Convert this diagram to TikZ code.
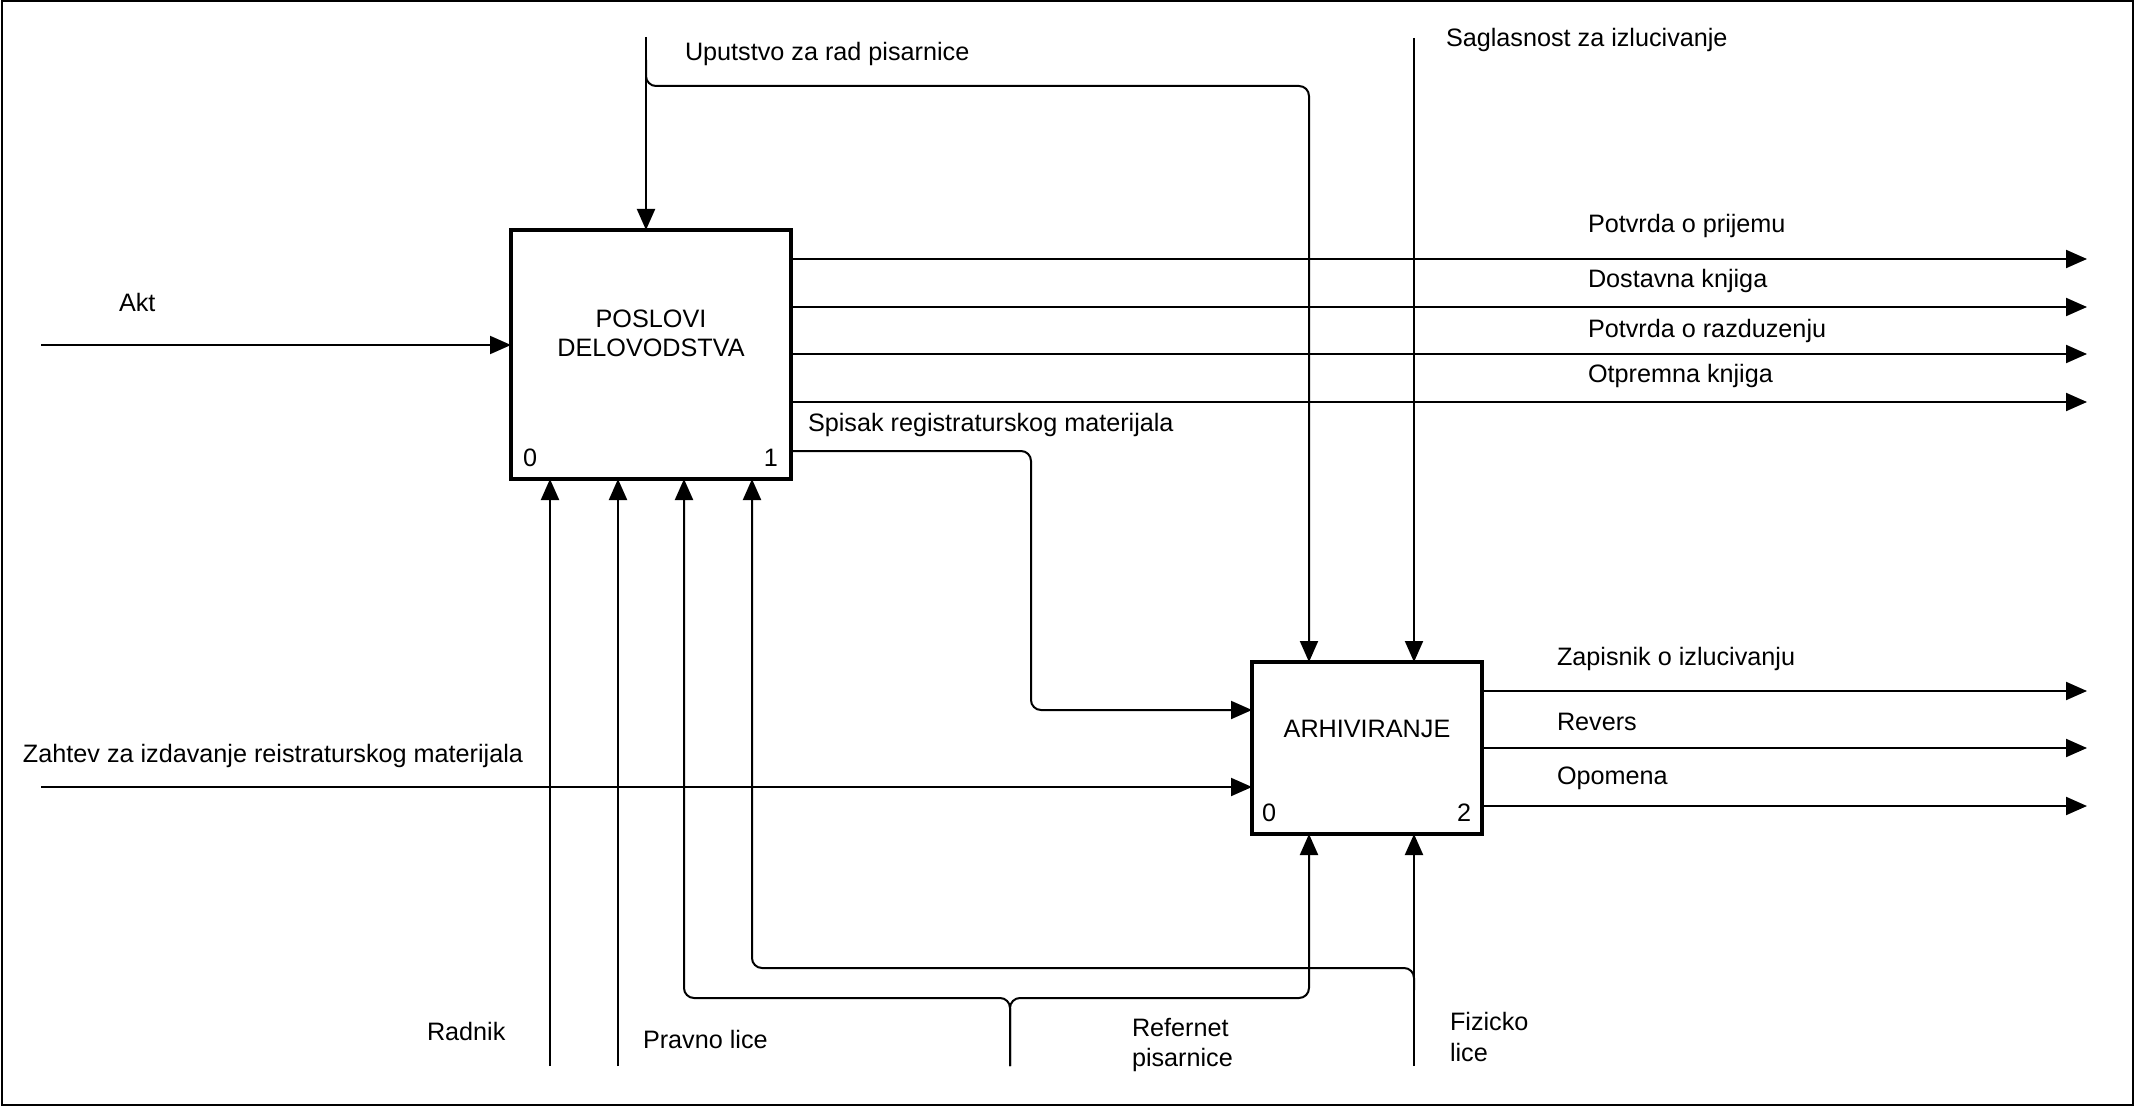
\documentclass[tikz,border=0pt]{standalone}
\usepackage{fontspec}
\setmainfont{Liberation Sans}
\usetikzlibrary{arrows.meta}
\begin{document}
\begin{tikzpicture}[x=0.5pt,y=-0.5pt,
  every node/.style={inner sep=0pt,outer sep=0pt,font=\fontsize{12.6}{15}\selectfont},
  lbl/.style={anchor=base west},
  lblc/.style={anchor=base},
  lble/.style={anchor=base east},
  box/.style={draw,line width=1.75pt,rectangle,minimum width=140pt,minimum height=124.5pt},
  box2s/.style={draw,line width=1.75pt,rectangle,minimum width=115pt,minimum height=86pt},
  conn/.style={line width=1pt},
  arr/.style={conn,-{Triangle[length=10.5pt,width=9pt]}},
  rc/.style={rounded corners=5pt}]
\useasboundingbox (0,0) rectangle (2147,1107);
\draw[line width=1pt] (2,1) rectangle (2133,1105);

% boxes
\node[box] (b1) at (651,354.5) {};
\node[box2s] (b2) at (1367,748) {};

% box texts
\node[lblc] (t1a) at (651,328) {POSLOVI};
\node[lblc] (t1b) at (651,357) {DELOVODSTVA};
\node[lbl] (n10) at (523,466) {0};
\node[lble] (n11) at (778,466) {1};
\node[lblc] (t2) at (1367,737) {ARHIVIRANJE};
\node[lbl] (n20) at (1262,821) {0};
\node[lble] (n22) at (1471,821) {2};

% coordinates
\coordinate (up) at (646,37);
\coordinate (upb) at (646,60);
\coordinate (upc) at (1309,86);
\coordinate (sag) at (1414,38);
\coordinate (akt) at (41,345);
\coordinate (o1) at (2087,259);
\coordinate (o2) at (2087,307);
\coordinate (o3) at (2087,354);
\coordinate (o4) at (2087,402);
\coordinate (sp) at (1031,451);
\coordinate (sp2) at (1031,710);
\coordinate (zah) at (41,787);
\coordinate (p1) at (2087,691);
\coordinate (p2) at (2087,748);
\coordinate (p3) at (2087,806);
\coordinate (rad) at (550,1066);
\coordinate (pra) at (618,1066);
\coordinate (ref) at (1010,1066);
\coordinate (refj) at (1010,998);
\coordinate (refl) at (684,998);
\coordinate (refr) at (1309,998);
\coordinate (fiz) at (1414,1066);
\coordinate (fizb) at (1414,990);
\coordinate (fizl) at (752,968);

% controls
\draw[arr] (up) -- (up |- b1.north);
\draw[arr,rc] (upb) |- (upc) -- (upc |- b2.north);
\draw[arr] (sag) -- (sag |- b2.north);

% inputs
\draw[arr] (akt) -- (akt -| b1.west);
\draw[arr] (zah) -- (zah -| b2.west);

% outputs box 1
\draw[arr] (o1 -| b1.east) -- (o1);
\draw[arr] (o2 -| b1.east) -- (o2);
\draw[arr] (o3 -| b1.east) -- (o3);
\draw[arr] (o4 -| b1.east) -- (o4);
\draw[arr,rc] (sp -| b1.east) -- (sp) -- (sp2) -- (sp2 -| b2.west);

% outputs box 2
\draw[arr] (p1 -| b2.east) -- (p1);
\draw[arr] (p2 -| b2.east) -- (p2);
\draw[arr] (p3 -| b2.east) -- (p3);

% mechanisms
\draw[arr] (rad) -- (rad |- b1.south);
\draw[arr] (pra) -- (pra |- b1.south);
\draw[arr,rc] (ref) -- (refj) -- (refl) -- (refl |- b1.south);
\draw[arr,rc] (ref) -- (refj) -- (refr) -- (refr |- b2.south);
\draw[arr] (fiz) -- (fiz |- b2.south);
\draw[arr,rc] (fizb) |- (fizl) -- (fizl |- b1.south);

% labels
\node[lbl] (lup) at (685,61) {Uputstvo za rad pisarnice};
\node[lbl] (lsag) at (1446,47) {Saglasnost za izlucivanje};
\node[lbl] (lakt) at (119,312) {Akt};
\node[lbl] (lo1) at (1588,233) {Potvrda o prijemu};
\node[lbl] (lo2) at (1588,287) {Dostavna knjiga};
\node[lbl] (lo3) at (1588,337) {Potvrda o razduzenju};
\node[lbl] (lo4) at (1588,382) {Otpremna knjiga};
\node[lbl] (lsp) at (808,431) {Spisak registraturskog materijala};
\node[lbl] (lzah) at (23,762) {Zahtev za izdavanje reistraturskog materijala};
\node[lbl] (lp1) at (1557,665) {Zapisnik o izlucivanju};
\node[lbl] (lp2) at (1557,730) {Revers};
\node[lbl] (lp3) at (1557,784) {Opomena};
\node[lbl] (lrad) at (427,1040) {Radnik};
\node[lbl] (lpra) at (643,1048) {Pravno lice};
\node[lbl] (lref1) at (1132,1036) {Refernet};
\node[lbl] (lref2) at (1132,1066) {pisarnice};
\node[lbl] (lfiz1) at (1450,1030) {Fizicko};
\node[lbl] (lfiz2) at (1450,1061) {lice};
\end{tikzpicture}
\end{document}
